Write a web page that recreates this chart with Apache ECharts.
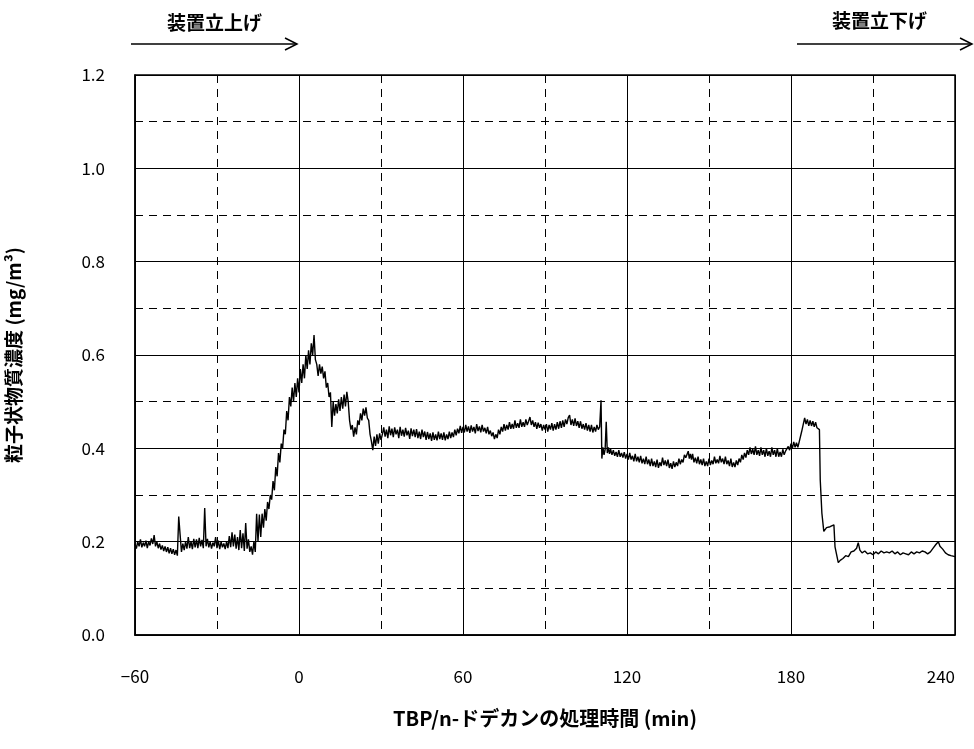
<!DOCTYPE html>
<html>
<head>
<meta charset="utf-8">
<script src="https://cdn.jsdelivr.net/npm/echarts@6/dist/echarts.min.js"></script>
<style>
html,body{margin:0;padding:0;background:#fff;}
#main{width:974px;height:749px;}
</style>
</head>
<body>
<div id="main"></div>
<script>
// Tick settings
var xTicks = [-60, 0, 60, 120, 180, 240];
var yTicks = [0.0, 0.2, 0.4, 0.6, 0.8, 1.0, 1.2];

// Start-up phase [time (min), concentration (mg/m3)]
var startupData = [
[-60,0.195],[-59.5,0.185],[-59,0.2],[-58.5,0.19],[-58,0.205],[-57.5,0.188],[-57,0.198],[-56.5,0.19],
[-56,0.202],[-55.5,0.186],[-55,0.2],[-54.5,0.192],[-54,0.207],[-53.5,0.195],[-53,0.214],[-52.5,0.19],
[-52,0.2],[-51.5,0.186],[-51,0.196],[-50.5,0.183],[-50,0.192],[-49.5,0.18],[-49,0.19],[-48.5,0.178],
[-48,0.188],[-47.5,0.175],[-47,0.186],[-46.5,0.174],[-46,0.184],[-45.5,0.172],[-45,0.182],[-44.5,0.17],
[-44,0.254],[-43.5,0.215],[-43,0.178],[-42.5,0.196],[-42,0.182],[-41.5,0.2],[-41,0.185],[-40.5,0.21],
[-40,0.186],[-39.5,0.2],[-39,0.184],[-38.5,0.206],[-38,0.188],[-37.5,0.205],[-37,0.186],[-36.5,0.208],
[-36,0.19],[-35.5,0.204],[-35,0.186],[-34.5,0.272],[-34,0.19],[-33.5,0.206],[-33,0.188],[-32.5,0.2],
[-32,0.185],[-31.5,0.198],[-31,0.19],[-30.5,0.21],[-30,0.186],[-29.5,0.202],[-29,0.184],[-28.5,0.2],
[-28,0.188],[-27.5,0.196],[-27,0.184],[-26.5,0.2],[-26,0.186],[-25.5,0.212],[-25,0.188],[-24.5,0.22],
[-24,0.19],[-23.5,0.215],[-23,0.185],[-22.5,0.21],[-22,0.182],[-21.5,0.225],[-21,0.186],[-20.5,0.218],
[-20,0.18],[-19.5,0.24],[-19,0.185],[-18.5,0.205],[-18,0.178],[-17.5,0.19],[-17,0.172],[-16.5,0.2],
[-16,0.178],[-15.5,0.26],[-15,0.2],[-14.5,0.258],[-14,0.21],[-13.5,0.26],[-13,0.23],[-12.5,0.27],
[-12,0.245],[-11.5,0.285],[-11,0.27],[-10.5,0.3],[-10,0.29],[-9.5,0.33],[-9,0.31],[-8.5,0.36],
[-8,0.34],[-7.5,0.39],[-7,0.37],[-6.5,0.41],[-6,0.4],[-5.5,0.44],[-5,0.43],[-4.5,0.48],
[-4,0.46],[-3.5,0.51],[-3,0.49],[-2.5,0.53],[-2,0.5],[-1.5,0.54],[-1,0.51],[-0.5,0.55],
[0,0.52],[0.5,0.57],[1,0.54],[1.5,0.58],[2,0.55],[2.5,0.6],[3,0.57],[3.5,0.61],
[4,0.58],[4.5,0.625],[5,0.6],[5.5,0.643],[6,0.59],[6.5,0.58],[7,0.555],[7.5,0.58],
[8,0.56],[8.5,0.575],[9,0.55],[9.5,0.565],[10,0.53],[10.5,0.54],[11,0.51],[11.5,0.52],
[12,0.446],[12.5,0.5],[13,0.47],[13.5,0.495],[14,0.475],[14.5,0.505],[15,0.48],[15.5,0.51],
[16,0.485],[16.5,0.515],[17,0.49],[17.5,0.521],[18,0.5],[18.5,0.46],[19,0.44],[19.5,0.45],
[20,0.425],[20.5,0.445],[21,0.43],[21.5,0.46],[22,0.45],[22.5,0.475],[23,0.46],[23.5,0.485],
[24,0.47],[24.5,0.488],[25,0.465],[25.5,0.46],[26,0.43],[26.5,0.415],[27,0.396],[27.5,0.425],
[28,0.405],[28.5,0.43],[29,0.41],[29.5,0.432],[30,0.418]
];

// Steady operation phase
var steadyData = [
[30.5,0.43],[31,0.445],[31.5,0.425],[32,0.44],[32.5,0.422],[33,0.447],[33.5,0.428],[34,0.442],[34.5,0.424],
[35,0.445],[35.5,0.43],[36,0.44],[36.5,0.422],[37,0.446],[37.5,0.427],[38,0.44],[38.5,0.425],[39,0.444],
[39.5,0.428],[40,0.438],[40.5,0.42],[41,0.443],[41.5,0.426],[42,0.44],[42.5,0.424],[43,0.441],[43.5,0.422],
[44,0.436],[44.5,0.42],[45,0.44],[45.5,0.424],[46,0.436],[46.5,0.418],[47,0.435],[47.5,0.42],[48,0.432],
[48.5,0.416],[49,0.434],[49.5,0.418],[50,0.43],[50.5,0.417],[51,0.436],[51.5,0.42],[52,0.432],[52.5,0.418],
[53,0.434],[53.5,0.417],[54,0.43],[54.5,0.42],[55,0.436],[55.5,0.422],[56,0.434],[56.5,0.424],[57,0.44],
[57.5,0.428],[58,0.442],[58.5,0.432],[59,0.448],[59.5,0.433],[60,0.446],[60.5,0.434],[61,0.45],[61.5,0.436],
[62,0.447],[62.5,0.433],[63,0.449],[63.5,0.436],[64,0.446],[64.5,0.432],[65,0.452],[65.5,0.437],[66,0.447],
[66.5,0.434],[67,0.45],[67.5,0.436],[68,0.444],[68.5,0.432],[69,0.446],[69.5,0.43],[70,0.438],[70.5,0.426],
[71,0.434],[71.5,0.42],[72,0.43],[72.5,0.422],[73,0.44],[73.5,0.43],[74,0.446],[74.5,0.436],[75,0.452],
[75.5,0.438],[76,0.45],[76.5,0.44],[77,0.456],[77.5,0.442],[78,0.452],[78.5,0.442],[79,0.46],[79.5,0.444],
[80,0.454],[80.5,0.444],[81,0.462],[81.5,0.446],[82,0.456],[82.5,0.446],[83,0.462],[83.5,0.45],[84,0.458],
[84.5,0.467],[85,0.45],[85.5,0.46],[86,0.446],[86.5,0.456],[87,0.442],[87.5,0.455],[88,0.444],[88.5,0.452],
[89,0.438],[89.5,0.45],[90,0.44],[90.5,0.452],[91,0.436],[91.5,0.45],[92,0.44],[92.5,0.454],[93,0.438],
[93.5,0.452],[94,0.44],[94.5,0.456],[95,0.442],[95.5,0.458],[96,0.444],[96.5,0.46],[97,0.446],[97.5,0.462],
[98,0.452],[98.5,0.466],[99,0.471],[99.5,0.45],[100,0.462],[100.5,0.448],[101,0.464],[101.5,0.448],[102,0.458],
[102.5,0.444],[103,0.458],[103.5,0.442],[104,0.452],[104.5,0.44],[105,0.454],[105.5,0.438],[106,0.45],
[106.5,0.436],[107,0.45],[107.5,0.434],[108,0.446],[108.5,0.436],[109,0.45],[109.5,0.44],[110,0.446],
[110.5,0.503],[110.8,0.378],[111.2,0.402],[111.6,0.386],[112,0.398],[112.4,0.457],[112.8,0.39],[113.2,0.402],
[113.6,0.388],[114,0.398],[114.5,0.386],[115,0.396],[115.5,0.384],[116,0.392],[116.5,0.382],[117,0.396],
[117.5,0.382],[118,0.39],[118.5,0.38],[119,0.392],[119.5,0.378],[120,0.388],[120.5,0.376],[121,0.39],
[121.5,0.376],[122,0.384],[122.5,0.372],[123,0.388],[123.5,0.372],[124,0.382],[124.5,0.37],[125,0.384],
[125.5,0.368],[126,0.378],[126.5,0.366],[127,0.382],[127.5,0.366],[128,0.376],[128.5,0.362],[129,0.378],
[129.5,0.362],[130,0.372],[130.5,0.36],[131,0.376],[131.5,0.358],[132,0.37],[132.5,0.362],[133,0.38],
[133.5,0.364],[134,0.374],[134.5,0.362],[135,0.376],[135.5,0.358],[136,0.368],[136.5,0.356],[137,0.372],
[137.5,0.36],[138,0.37],[138.5,0.362],[139,0.378],[139.5,0.366],[140,0.376],[140.5,0.37],[141,0.386],
[141.5,0.38],[142.4,0.394],[142.8,0.378],[143.2,0.388],[143.6,0.376],[144,0.388],[144.5,0.37],[145,0.38],
[145.5,0.368],[146,0.382],[146.5,0.366],[147,0.376],[147.5,0.364],[148,0.378],[148.5,0.362],[149,0.372],
[149.5,0.362],[150,0.378],[150.5,0.364],[151,0.374],[151.5,0.366],[152,0.382],[152.5,0.368],[153,0.376],
[153.5,0.368],[154,0.384],[154.5,0.37],[155,0.378],[155.5,0.366],[156,0.382],[156.5,0.366],[157,0.374],
[157.5,0.362],[158,0.378],[158.5,0.36],[159,0.37],[159.5,0.36],[160,0.374],[160.5,0.364],[161,0.378],
[161.5,0.37],[162,0.386],[162.5,0.376],[163,0.39],[163.5,0.38],[164,0.396],[164.5,0.386],[165,0.402],
[165.5,0.388],[166,0.398],[166.5,0.386],[167,0.404],[167.5,0.386],[168,0.396],[168.5,0.384],[169,0.402],
[169.5,0.386],[170,0.396],[170.5,0.382],[171,0.4],[171.5,0.384],[172,0.394],[172.5,0.382],[173,0.402],
[173.5,0.386],[174,0.396],[174.5,0.382],[175,0.4],[175.5,0.382],[176,0.392],[176.5,0.382],[177,0.398],
[177.5,0.386],[178,0.394],[178.5,0.39],[179,0.404],[179.5,0.396],[180,0.41],[180.5,0.4],[181,0.414],
[181.5,0.402],[182,0.412],[182.5,0.402],[183,0.414]
];

// Shut-down phase
var shutdownData = [
[183.9,0.436],[184.5,0.452],[185,0.465],[185.5,0.452],[186,0.462],[186.5,0.448],[187,0.46],[187.5,0.448],
[188,0.458],[188.5,0.446],[189,0.456],[189.5,0.444],[190,0.448],[190.4,0.44],[190.7,0.332],
[191.3,0.261],[192,0.222],[193,0.23],[194.3,0.232],[195.7,0.236],[196.1,0.189],[197.3,0.155],
[198,0.16],[199,0.164],[200,0.17],[201,0.168],[202,0.178],[203,0.18],[204,0.186],[204.6,0.198],
[205.2,0.182],[206,0.176],[207,0.18],[208,0.174],[209,0.176],[210,0.172],[211,0.178],[212,0.174],
[213,0.18],[214,0.176],[215,0.178],[216,0.176],[217,0.18],[218,0.174],[219,0.178],[220,0.172],
[221,0.176],[222,0.174],[223,0.172],[224,0.178],[225,0.174],[226,0.178],[227,0.176],[228,0.18],
[229,0.178],[230,0.174],[231,0.178],[232,0.186],[233,0.194],[233.9,0.2],[234.5,0.19],[235.5,0.184],
[236.5,0.176],[237.5,0.172],[238.5,0.17],[240,0.168]
];

var seriesData = startupData.concat(steadyData, shutdownData);

var FONT = '"Noto Sans CJK JP", "Noto Sans", sans-serif';

var chart = echarts.init(document.getElementById('main'), null, {renderer: 'canvas'});

function arrow(x1, x2, y) {
  return [
    {type: 'line', shape: {x1: x1, y1: y, x2: x2, y2: y}, style: {stroke: '#000', lineWidth: 1.5}},
    {type: 'polyline', shape: {points: [[x2 - 12, y - 6], [x2, y], [x2 - 12, y + 6]]}, style: {stroke: '#000', lineWidth: 1.5, fill: null}}
  ];
}

chart.setOption({
  animation: false,
  backgroundColor: '#fff',
  grid: {left: 135, right: 19, top: 75, bottom: 114, show: true, borderColor: '#000', borderWidth: 1.5, outerBoundsMode: 'none', containLabel: false},
  xAxis: {
    type: 'value', min: -60, max: 240, interval: 60,
    name: 'TBP/n-ドデカンの処理時間 (min)', nameLocation: 'middle', nameGap: 73,
    nameTextStyle: {fontFamily: FONT, fontSize: 20, fontWeight: 'bold', color: '#000'},
    axisLine: {show: true, onZero: false, lineStyle: {color: '#000', width: 1.5}},
    axisTick: {show: false},
    minorTick: {show: false, splitNumber: 2},
    axisLabel: {fontFamily: FONT, fontSize: 17, color: '#000', margin: 33, alignMaxLabel: 'right',
      formatter: function (v) { return xTicks.indexOf(v) >= 0 ? (v < 0 ? '\u2212' + Math.abs(v) : String(v)) : ''; }},
    splitLine: {show: true, lineStyle: {color: '#000', width: 1, type: 'solid'}},
    minorSplitLine: {show: true, lineStyle: {color: '#000', width: 1, type: [8, 6]}}
  },
  yAxis: {
    type: 'value', min: 0, max: 1.2, interval: 0.2,
    name: '粒子状物質濃度 (mg/m³)', nameLocation: 'middle', nameGap: 112,
    nameTextStyle: {fontFamily: FONT, fontSize: 19, fontWeight: 'bold', color: '#000'},
    axisLine: {show: true, onZero: false, lineStyle: {color: '#000', width: 1.5}},
    axisTick: {show: false},
    minorTick: {show: false, splitNumber: 2},
    axisLabel: {fontFamily: FONT, fontSize: 17, color: '#000', margin: 30,
      formatter: function (v) { return v.toFixed(1); }},
    splitLine: {show: true, lineStyle: {color: '#000', width: 1, type: 'solid'}},
    minorSplitLine: {show: true, lineStyle: {color: '#000', width: 1, type: [8, 6]}}
  },
  graphic: [
    {type: 'text', left: 167, top: 13, style: {text: '装置立上げ', font: 'bold 19px ' + FONT, fill: '#000'}},
    {type: 'text', left: 832, top: 11, style: {text: '装置立下げ', font: 'bold 19px ' + FONT, fill: '#000'}}
  ].concat(arrow(131, 297, 44), arrow(797, 972, 44)),
  series: [{
    type: 'line',
    data: seriesData,
    showSymbol: false,
    symbol: 'none',
    lineStyle: {color: '#000', width: 1.4},
    z: 5
  }]
});
</script>
</body>
</html>
